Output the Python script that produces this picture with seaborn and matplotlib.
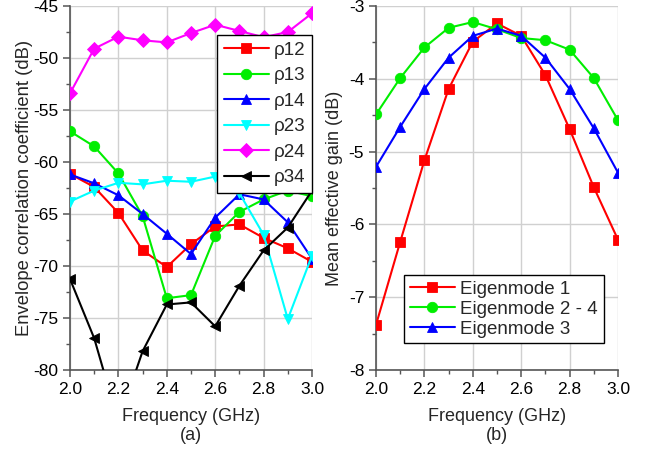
import numpy as np
import pandas as pd
import seaborn as sns
import matplotlib
matplotlib.use("Agg")
import matplotlib.pyplot as plt
from matplotlib.ticker import MultipleLocator, FormatStrFormatter

freq = [2.0, 2.1, 2.2, 2.3, 2.4, 2.5, 2.6, 2.7, 2.8, 2.9, 3.0]

rho12 = [-61.15, -62.4, -64.9, -68.5, -70.1, -67.9, -66.2, -66.0, -67.3, -68.3, -69.6]
rho13 = [-57.05, -58.5, -61.1, -65.2, -73.1, -72.8, -67.1, -64.8, -63.6, -62.75, -63.3]
rho14 = [-61.2, -62.05, -63.2, -65.0, -66.9, -68.85, -65.35, -63.1, -63.6, -65.8, -69.3]
rho23 = [-63.8, -62.75, -62.0, -62.15, -61.8, -61.9, -61.4, -63.0, -67.0, -75.1, -69.0]
rho24 = [-53.4, -49.1, -47.95, -48.3, -48.5, -47.6, -46.8, -47.4, -48.0, -47.5, -45.7]
rho34 = [-71.25, -76.95, -85.0, -78.2, -73.7, -73.5, -75.8, -71.9, -68.5, -66.3, -62.75]

eig1 = [-7.38, -6.24, -5.12, -4.14, -3.49, -3.24, -3.41, -3.95, -4.69, -5.49, -6.21]
eig24 = [-4.49, -3.99, -3.57, -3.30, -3.22, -3.32, -3.44, -3.47, -3.60, -3.99, -4.57]
eig3 = [-5.21, -4.66, -4.14, -3.71, -3.41, -3.31, -3.41, -3.71, -4.14, -4.68, -5.29]

left_names = ["ρ12", "ρ13", "ρ14", "ρ23", "ρ24", "ρ34"]
left_vals = [rho12, rho13, rho14, rho23, rho24, rho34]
left_colors = ["#FF0000", "#00EE00", "#0000FF", "#00FFFF", "#FF00FF", "#000000"]
left_markers = ["s", "o", "^", "v", "D", "<"]

right_names = ["Eigenmode 1", "Eigenmode 2 - 4", "Eigenmode 3"]
right_vals = [eig1, eig24, eig3]
right_colors = ["#FF0000", "#00EE00", "#0000FF"]
right_markers = ["s", "o", "^"]

sns.set_style("ticks")
plt.rcParams["font.family"] = ["Liberation Sans", "DejaVu Sans"]
plt.rcParams["axes.unicode_minus"] = False

fig = plt.figure(figsize=(6.49, 4.5), dpi=100)
W, H = 649, 450
axL = fig.add_axes([70 / W, (H - 370) / H, 242 / W, 364 / H])
axR = fig.add_axes([376 / W, (H - 370) / H, 242 / W, 364 / H])

def long_df(names, vals):
    rows = []
    for n, v in zip(names, vals):
        for f, y in zip(freq, v):
            rows.append({"Frequency": f, "value": y, "series": n})
    return pd.DataFrame(rows)

dfL = long_df(left_names, left_vals)
dfR = long_df(right_names, right_vals)

sns.lineplot(data=dfL, x="Frequency", y="value", hue="series", style="series",
             hue_order=left_names, style_order=left_names,
             palette=dict(zip(left_names, left_colors)),
             markers=dict(zip(left_names, left_markers)), dashes=False,
             markersize=7.5, linewidth=1.5, markeredgewidth=0.6, ax=axL, zorder=3)
sns.lineplot(data=dfR, x="Frequency", y="value", hue="series", style="series",
             hue_order=right_names, style_order=right_names,
             palette=dict(zip(right_names, right_colors)),
             markers=dict(zip(right_names, right_markers)), dashes=False,
             markersize=7.5, linewidth=1.5, markeredgewidth=0.6, ax=axR, zorder=3)

for ax in (axL, axR):
    for line in ax.get_lines():
        line.set_markeredgecolor(line.get_color())
    ax.set_xlim(2.0, 3.0)
    ax.xaxis.set_major_locator(MultipleLocator(0.2))
    ax.xaxis.set_minor_locator(MultipleLocator(0.1))
    ax.xaxis.set_major_formatter(FormatStrFormatter("%.1f"))
    ax.grid(True, which="major", color="#D0D0D0", linewidth=1.0, zorder=0)
    ax.set_axisbelow(True)
    for s in ("top", "right"):
        ax.spines[s].set_visible(False)
    for s in ("left", "bottom"):
        ax.spines[s].set_color("#555555")
        ax.spines[s].set_linewidth(1.2)
    ax.tick_params(which="major", direction="out", length=5, width=1.1, color="#555555",
                   labelsize=12.5, labelcolor="black")
    ax.tick_params(which="minor", direction="out", length=3, width=1.0, color="#555555")
    ax.set_xlabel("Frequency (GHz)", fontsize=13, labelpad=8)

axL.set_ylim(-80, -45)
axL.yaxis.set_major_locator(MultipleLocator(5))
axL.yaxis.set_minor_locator(MultipleLocator(2.5))
axL.yaxis.set_major_formatter(FormatStrFormatter("%d"))
axL.set_ylabel("Envelope correlation coefficient (dB)", fontsize=13.3, labelpad=0)

axR.set_ylim(-8, -3)
axR.yaxis.set_major_locator(MultipleLocator(1))
axR.yaxis.set_minor_locator(MultipleLocator(0.5))
axR.yaxis.set_major_formatter(FormatStrFormatter("%d"))
axR.set_ylabel("Mean effective gain (dB)", fontsize=13, labelpad=4)

legL = axL.legend(loc="upper left", bbox_to_anchor=(147 / 242, 1 - 29 / 364), fontsize=13.5,
                  frameon=True, fancybox=False, edgecolor="black", framealpha=1,
                  handlelength=2.4, handletextpad=0.3, labelspacing=0.45, borderpad=0.35,
                  borderaxespad=0)
legL.get_frame().set_linewidth(1.0)
legR = axR.legend(loc="upper left", bbox_to_anchor=(28 / 242, 1 - 269 / 364), fontsize=13.5,
                  frameon=True, fancybox=False, edgecolor="black", framealpha=1,
                  handlelength=2.4, handletextpad=0.3, labelspacing=0.15, borderpad=0.3,
                  borderaxespad=0)
legR.get_frame().set_linewidth(1.0)
for leg in (legL, legR):
    for h in leg.legend_handles:
        h.set_markeredgecolor(h.get_color())

fig.text((70 + 121) / W, 1 - 436 / H, "(a)", ha="center", va="center", fontsize=13)
fig.text((376 + 121) / W, 1 - 436 / H, "(b)", ha="center", va="center", fontsize=13)

fig.savefig("out.png", dpi=100)
